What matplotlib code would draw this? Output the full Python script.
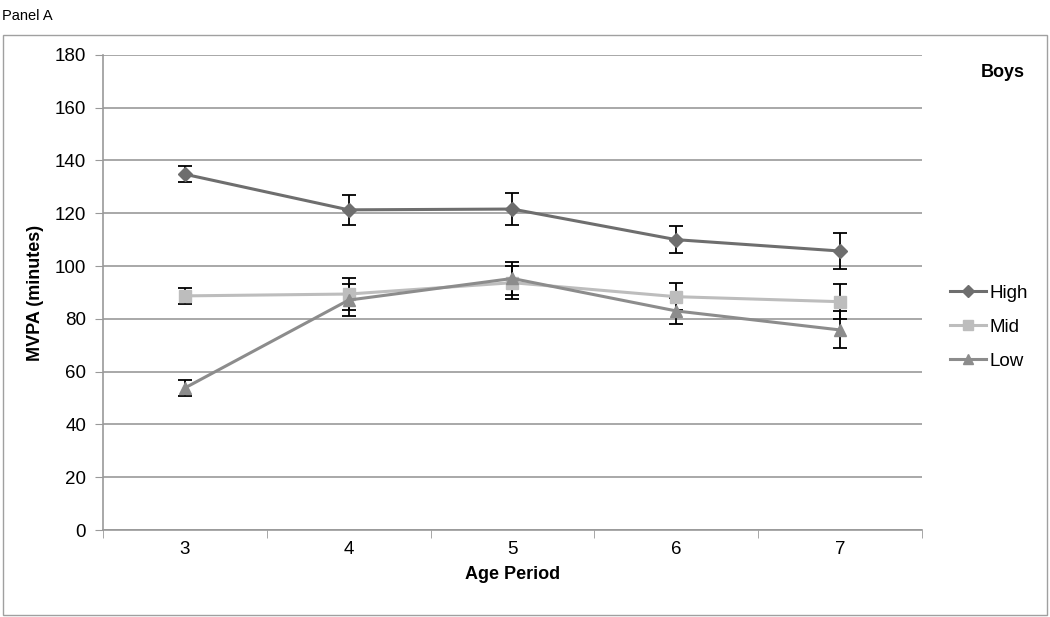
import matplotlib.pyplot as plt
from matplotlib.patches import Rectangle
from matplotlib.lines import Line2D
from matplotlib.ticker import FixedLocator

plt.rcParams['font.family'] = ['Liberation Sans', 'DejaVu Sans']

ages = [3, 4, 5, 6, 7]
high = [134.8, 121.3, 121.6, 110.0, 105.7]
high_err = [3.0, 5.8, 6.0, 5.0, 7.0]
mid = [88.7, 89.4, 93.7, 88.4, 86.5]
mid_err = [3.0, 5.9, 6.2, 5.0, 6.7]
low = [53.8, 87.1, 95.3, 83.0, 75.8]
low_err = [3.2, 6.0, 6.1, 5.0, 7.0]

fig = plt.figure(figsize=(10.5, 6.17), dpi=100)
fig.patches.append(Rectangle((0.003, 0.004), 0.994, 0.94, transform=fig.transFigure,
                             fill=False, edgecolor='#a0a0a0', linewidth=1))
fig.text(0.002, 0.985, 'Panel A', fontsize=10.5, va='top', ha='left')

ax = fig.add_axes([0.098, 0.141, 0.780, 0.770])

series = [
    ('High', high, high_err, '#6e6e6e', 'D', 7),
    ('Mid', mid, mid_err, '#bdbdbd', 's', 8),
    ('Low', low, low_err, '#8c8c8c', '^', 8),
]
handles = []
for name, vals, errs, col, mk, ms in series:
    ax.errorbar(ages, vals, yerr=errs, color=col, marker=mk, markersize=ms,
                linewidth=2.2, ecolor='black', elinewidth=1.3, capsize=5,
                capthick=1.3, zorder=3)
    handles.append(Line2D([], [], color=col, marker=mk, markersize=ms - 1,
                          linewidth=2.2, label=name))

ax.set_xlim(2.5, 7.5)
ax.set_ylim(0, 180)
ax.set_yticks(range(0, 181, 20))
ax.set_xticks(ages)
ax.xaxis.set_minor_locator(FixedLocator([2.5, 3.5, 4.5, 5.5, 6.5, 7.5]))
ax.tick_params(axis='x', which='major', length=0, labelsize=13.5, pad=8)
ax.tick_params(axis='x', which='minor', length=6, color='#999999', direction='out')
ax.tick_params(axis='y', length=6, color='#999999', labelsize=13.5, pad=6)
ax.grid(axis='y', color='#999999', linewidth=1.2)
ax.set_axisbelow(True)
for s in ['top', 'right']:
    ax.spines[s].set_visible(False)
ax.spines['left'].set_color('#999999')
ax.spines['bottom'].set_color('#999999')
ax.spines['left'].set_linewidth(1.2)
ax.spines['bottom'].set_linewidth(1.2)

ax.set_xlabel('Age Period', fontsize=13, fontweight='bold', labelpad=6)
ax.set_ylabel('MVPA (minutes)', fontsize=13, fontweight='bold', labelpad=8)

fig.text(0.955, 0.883, 'Boys', fontsize=13, fontweight='bold', ha='center', va='center')
fig.legend(handles=handles, loc='center left', bbox_to_anchor=(0.898, 0.47),
           frameon=False, fontsize=13.5, handlelength=1.9, handletextpad=0.2,
           labelspacing=0.9, borderaxespad=0)

fig.savefig('out.png', dpi=100)
